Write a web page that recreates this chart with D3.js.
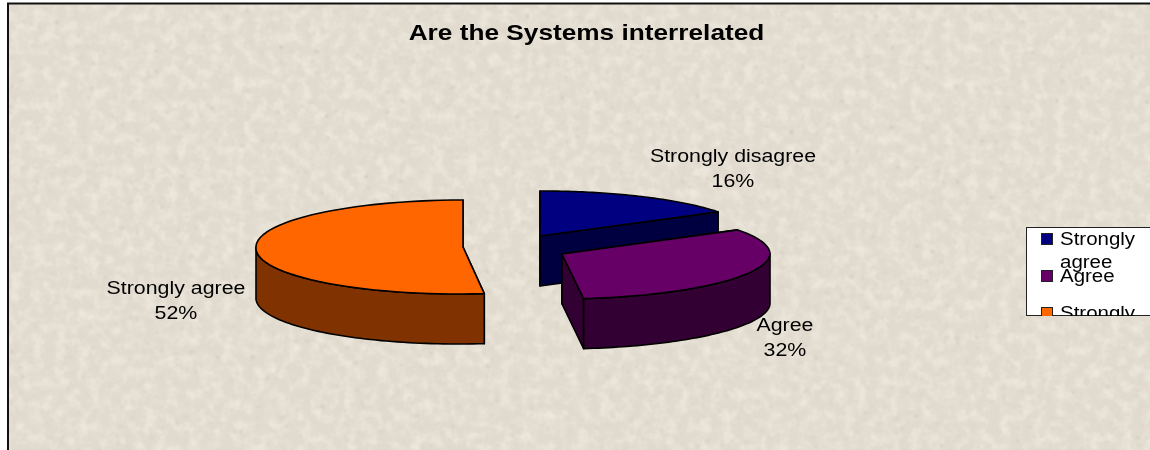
<!DOCTYPE html>
<html><head><meta charset="utf-8">
<style>html,body{margin:0;padding:0;background:#fff}svg{display:block;filter:blur(0.35px)}text{font-family:"Liberation Sans",Arial,sans-serif;fill:#000}</style>
<script src="https://cdnjs.cloudflare.com/ajax/libs/d3/7.8.5/d3.min.js"></script>
</head><body><svg id="c" width="1150" height="450"></svg>
<script>
const categories = ["Strongly disagree", "Agree", "Strongly agree"];
const values = [16, 32, 52];
const legendLabels = [["Strongly", "agree"], ["Agree"], ["Strongly", "disagree"]];
const topColors = ["#000080", "#660066", "#ff6600"];
const sideColors = ["#000040", "#330033", "#803300"];
const centers = [[540, 236], [562, 254], [463, 247]];
const radiiX = [211, 208, 207];
const radiiY = [45, 45, 47];
const labelPos = [[733, 162], [785, 331], [176, 294]];

const W = 1150, H = 450, depth = 50, frontSkew = 0.1;
const svg = d3.select("#c");
const defs = svg.append("defs");
const f = defs.append("filter").attr("id", "tex").attr("x", 0).attr("y", 0).attr("width", "100%").attr("height", "100%");
f.append("feTurbulence").attr("type", "fractalNoise").attr("baseFrequency", "0.09").attr("numOctaves", 3).attr("seed", 3).attr("result", "soft");
f.append("feColorMatrix").attr("in", "soft").attr("type", "matrix")
 .attr("values", "0 0 0 0 0.97  0 0 0 0 0.94  0 0 0 0 0.88  0.9 0 0 0 -0.36").attr("result", "light");
f.append("feTurbulence").attr("type", "fractalNoise").attr("baseFrequency", "0.2").attr("numOctaves", 3).attr("seed", 11).attr("result", "n");
f.append("feColorMatrix").attr("in", "n").attr("type", "matrix")
 .attr("values", "0 0 0 0 0.55  0 0 0 0 0.5  0 0 0 0 0.44  5 0 0 0 -3.6").attr("result", "dark");
f.append("feGaussianBlur").attr("in", "dark").attr("stdDeviation", 0.8).attr("result", "darkB");
f.append("feMerge").call(m => { m.append("feMergeNode").attr("in", "SourceGraphic"); m.append("feMergeNode").attr("in", "light"); m.append("feMergeNode").attr("in", "darkB"); });
defs.append("clipPath").attr("id", "legClip").append("rect").attr("x", 1026).attr("y", 227).attr("width", 124).attr("height", 89);

svg.append("rect").attr("x", 8).attr("y", 3).attr("width", W - 8).attr("height", H - 3).attr("fill", "#e1dace").attr("filter", "url(#tex)");
svg.append("path").attr("d", d3.line()([[8, H], [8, 3.5], [W, 3.5]])).attr("fill", "none").attr("stroke", "#111").attr("stroke-width", 2);

const stretched = (sel, k) => sel.attr("textLength", sel.node().getComputedTextLength() * k).attr("lengthAdjust", "spacingAndGlyphs");

svg.append("text").attr("x", 586.5).attr("y", 40).attr("text-anchor", "middle").attr("font-size", 21.5).attr("font-weight", "bold").text("Are the Systems interrelated").call(stretched, 1.22);

const arcs = d3.pie().sort(null)(values);
const pt = (i, a, dz = 0) => {
  const dy = -radiiY[i] * Math.cos(a);
  return [centers[i][0] + radiiX[i] * Math.sin(a) - frontSkew * Math.max(0, dy), centers[i][1] + dy + dz];
};
const sweep = (i, a0, a1, dz = 0) => d3.range(0, 61).map(k => pt(i, a0 + (a1 - a0) * k / 60, dz));
const line = d3.line();
const stroke = (s) => s.attr("stroke", "#000").attr("stroke-width", 1.6).attr("stroke-linejoin", "round");

// draw back to front: blue, orange, purple
[0, 2, 1].forEach(i => {
  const d = arcs[i], g = svg.append("g").attr("class", "slice");
  const c = centers[i];
  const cBelow = [c[0], c[1] + depth];
  const faces = [[c, pt(i, d.startAngle), pt(i, d.startAngle, depth), cBelow], [c, pt(i, d.endAngle), pt(i, d.endAngle, depth), cBelow]];
  faces.forEach(p => g.append("path").attr("d", line(p) + "Z").attr("fill", sideColors[i]).call(stroke));
  const w0 = Math.max(d.startAngle, Math.PI / 2), w1 = Math.min(d.endAngle, 3 * Math.PI / 2);
  if (w1 > w0) {
    const wall = sweep(i, w0, w1).concat(sweep(i, w0, w1, depth).reverse());
    g.append("path").attr("d", line(wall) + "Z").attr("fill", sideColors[i]).call(stroke);
  }
  g.append("path").attr("d", line([c, ...sweep(i, d.startAngle, d.endAngle)]) + "Z").attr("fill", topColors[i]).call(stroke);
});

categories.forEach((cat, i) => {
  [cat, values[i] + "%"].forEach((s, j) => {
    svg.append("text").attr("text-anchor", "middle").attr("font-size", 17.5)
      .attr("x", labelPos[i][0]).attr("y", labelPos[i][1] + j * 25).text(s).call(stretched, 1.22);
  });
});

svg.append("rect").attr("x", 1026.5).attr("y", 227.5).attr("width", 124).attr("height", 88).attr("fill", "#fff").attr("stroke", "#222").attr("stroke-width", 1);
const leg = svg.append("g").attr("clip-path", "url(#legClip)");
const rowY = [239, 276, 313];
legendLabels.forEach((ls, i) => {
  leg.append("rect").attr("x", 1041.5).attr("y", rowY[i] - 5.5).attr("width", 11).attr("height", 11).attr("fill", topColors[i]).attr("stroke", "#222").attr("stroke-width", 1);
  ls.forEach((s, j) => leg.append("text").attr("x", 1060).attr("y", rowY[i] + 6 + j * 23).attr("font-size", 17.5).text(s).call(stretched, 1.17));
});
</script></body></html>
